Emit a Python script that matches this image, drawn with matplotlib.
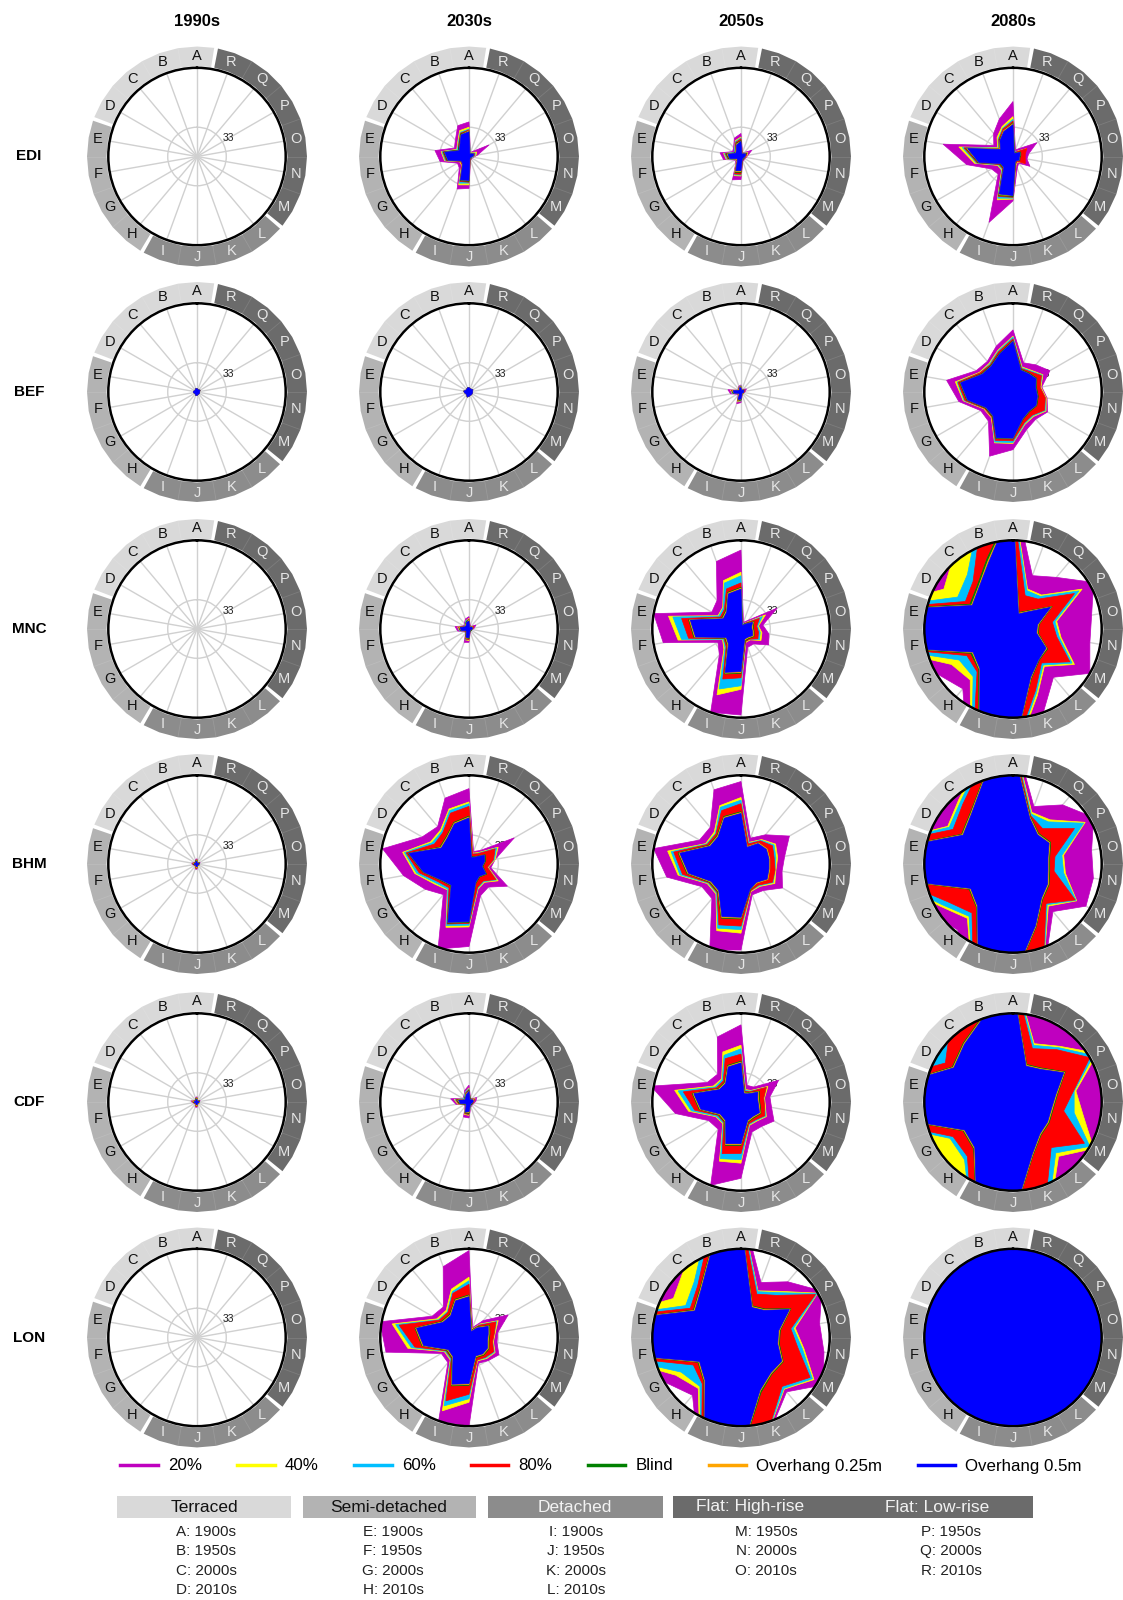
import numpy as np
import matplotlib
matplotlib.use("Agg")
import matplotlib.pyplot as plt
from matplotlib.lines import Line2D
from matplotlib.patches import Rectangle

plt.rcParams["font.family"] = ["Liberation Sans", "DejaVu Sans"]

# ---------------------------------------------------------------- labels
SPOKES = list("ABCDEFGHIJKLMNOPQR")
CITIES = ["EDI", "BEF", "MNC", "BHM", "CDF", "LON"]
DECADES = ["1990s", "2030s", "2050s", "2080s"]
SERIES = ["20%", "40%", "60%", "80%", "Blind", "Overhang 0.25m", "Overhang 0.5m"]
SERIES_COLORS = ["#bf00bf", "#ffff00", "#00bfff", "#ff0000", "#008000", "#ffa500", "#0000ff"]

BUILDING_TYPES = ["Terraced", "Semi-detached", "Detached", "Flat: High-rise", "Flat: Low-rise"]
BUILDING_KEYS = [
    ["A: 1900s", "B: 1950s", "C: 2000s", "D: 2010s"],
    ["E: 1900s", "F: 1950s", "G: 2000s", "H: 2010s"],
    ["I: 1900s", "J: 1950s", "K: 2000s", "L: 2010s"],
    ["M: 1950s", "N: 2000s", "O: 2010s"],
    ["P: 1950s", "Q: 2000s", "R: 2010s"],
]

# --------------------------------------------------------------- values
# one row per series (20%, 40%, 60%, 80%, Blind, Overhang 0.25m, Overhang 0.5m),
# one column per dwelling A..R
ZERO = [0] * 18

EDI_1990s = [ZERO, ZERO, ZERO, ZERO, ZERO, ZERO, ZERO]
EDI_2030s = [
    [39, 37, 24, 19, 39, 33, 15, 17, 39, 36, 5, 4, 4, 5, 10, 26, 8, 5],
    [33, 31, 20, 16, 32, 28, 12, 13, 34, 32, 4, 3, 3, 4, 8, 10, 6, 4],
    [31, 29, 19, 15, 31, 27, 11, 12, 32, 30, 4, 3, 3, 4, 7, 8, 5, 4],
    [30, 28, 18, 14, 30, 26, 11, 12, 30, 29, 4, 3, 3, 3, 6, 7, 5, 3],
    [29, 27, 17, 14, 29, 25, 10, 11, 29, 28, 3, 3, 3, 3, 5, 6, 4, 3],
    [29, 26, 16, 13, 28, 24, 10, 11, 28, 27, 3, 2, 2, 3, 5, 6, 4, 3],
    [28, 26, 16, 13, 28, 24, 10, 11, 28, 27, 3, 2, 2, 3, 5, 6, 4, 3],
]
EDI_2050s = [
    [26, 22, 13, 11, 24, 20, 8, 9, 28, 26, 6, 5, 5, 6, 8, 14, 6, 5],
    [22, 19, 11, 9, 20, 17, 7, 8, 23, 22, 5, 4, 4, 5, 7, 9, 5, 4],
    [21, 18, 11, 9, 19, 16, 7, 7, 22, 21, 5, 4, 4, 5, 6, 8, 5, 4],
    [20, 17, 10, 8, 18, 15, 6, 7, 21, 20, 5, 4, 4, 5, 6, 8, 4, 4],
    [18, 16, 9, 8, 17, 14, 6, 6, 19, 18, 4, 4, 4, 4, 5, 7, 4, 3],
    [17, 15, 9, 7, 16, 13, 6, 6, 18, 17, 4, 3, 3, 4, 5, 6, 4, 3],
    [17, 14, 8, 7, 15, 13, 5, 6, 17, 16, 4, 3, 3, 4, 5, 6, 4, 3],
]
EDI_2080s = [
    [62, 45, 34, 25, 80, 53, 28, 26, 79, 50, 14, 10, 22, 16, 18, 31, 12, 8],
    [45, 36, 28, 20, 62, 44, 20, 20, 52, 48, 10, 8, 15, 12, 12, 18, 8, 6],
    [42, 34, 26, 19, 58, 42, 19, 19, 50, 47, 9, 7, 14, 12, 12, 16, 7, 6],
    [40, 33, 25, 18, 56, 41, 18, 18, 48, 46, 9, 7, 16, 14, 14, 18, 7, 5],
    [38, 31, 24, 17, 54, 40, 17, 17, 47, 45, 8, 6, 9, 8, 9, 10, 6, 5],
    [37, 31, 23, 17, 53, 39, 16, 16, 46, 44, 7, 6, 8, 7, 8, 9, 5, 4],
    [36, 30, 23, 16, 52, 39, 16, 16, 45, 44, 7, 6, 8, 7, 8, 9, 5, 4],
]

BEF_1990s = [
    [4, 4, 3, 3, 4, 4, 3, 3, 4, 4, 3, 3, 3, 3, 3, 4, 3, 3],
    [4, 4, 3, 3, 4, 4, 3, 3, 4, 4, 3, 3, 3, 3, 3, 4, 3, 3],
    [4, 4, 3, 3, 4, 4, 3, 3, 4, 4, 3, 3, 3, 3, 3, 4, 3, 3],
    [4, 4, 3, 3, 4, 4, 3, 3, 4, 4, 3, 3, 3, 3, 3, 4, 3, 3],
    [4, 4, 3, 3, 4, 4, 3, 3, 4, 4, 3, 3, 3, 3, 3, 4, 3, 3],
    [4, 4, 3, 3, 4, 4, 3, 3, 4, 4, 3, 3, 3, 3, 3, 4, 3, 3],
    [4, 4, 3, 3, 4, 4, 3, 3, 4, 4, 3, 3, 3, 3, 3, 4, 3, 3],
]
BEF_2030s = [
    [5, 5, 4, 4, 6, 5, 4, 4, 6, 5, 4, 4, 4, 4, 4, 5, 4, 4],
    [5, 5, 4, 4, 6, 5, 4, 4, 6, 5, 4, 4, 4, 4, 4, 5, 4, 4],
    [5, 5, 4, 4, 6, 5, 4, 4, 6, 5, 4, 4, 4, 4, 4, 5, 4, 4],
    [5, 5, 4, 4, 6, 5, 4, 4, 6, 5, 4, 4, 4, 4, 4, 5, 4, 4],
    [5, 5, 4, 4, 6, 5, 4, 4, 6, 5, 4, 4, 4, 4, 4, 5, 4, 4],
    [5, 5, 4, 4, 6, 5, 4, 4, 6, 5, 4, 4, 4, 4, 4, 5, 4, 4],
    [5, 5, 4, 4, 6, 5, 4, 4, 6, 5, 4, 4, 4, 4, 4, 5, 4, 4],
]
BEF_2050s = [
    [8, 7, 5, 4, 15, 12, 5, 5, 14, 12, 4, 3, 3, 4, 5, 7, 4, 3],
    [7, 6, 4, 4, 12, 10, 4, 4, 12, 10, 3, 3, 3, 3, 4, 5, 3, 3],
    [7, 6, 4, 4, 11, 10, 4, 4, 11, 10, 3, 3, 3, 3, 4, 5, 3, 3],
    [6, 6, 4, 4, 11, 9, 4, 4, 11, 9, 3, 3, 3, 3, 4, 5, 3, 3],
    [6, 5, 4, 3, 10, 9, 4, 4, 10, 9, 3, 3, 3, 3, 3, 4, 3, 3],
    [6, 5, 4, 3, 10, 8, 4, 4, 10, 8, 3, 3, 3, 3, 3, 4, 3, 3],
    [5, 5, 3, 3, 9, 8, 3, 3, 9, 8, 3, 2, 2, 3, 3, 4, 3, 2],
]
BEF_2080s = [
    [70, 55, 45, 48, 76, 62, 42, 43, 77, 65, 45, 40, 45, 39, 33, 48, 40, 35],
    [63, 50, 42, 44, 66, 57, 38, 38, 61, 58, 39, 36, 43, 38, 32, 39, 32, 30],
    [62, 49, 41, 43, 64, 56, 37, 37, 60, 57, 38, 35, 42, 37, 31, 38, 31, 29],
    [60, 48, 40, 43, 63, 55, 37, 37, 58, 55, 37, 34, 41, 37, 31, 37, 30, 28],
    [58, 46, 39, 41, 61, 53, 36, 36, 56, 53, 33, 29, 31, 29, 27, 31, 28, 27],
    [57, 45, 38, 40, 60, 52, 35, 35, 55, 52, 32, 28, 30, 28, 26, 30, 27, 26],
    [57, 45, 38, 40, 60, 52, 35, 35, 55, 52, 32, 28, 30, 28, 26, 30, 27, 26],
]

MNC_1990s = [ZERO, ZERO, ZERO, ZERO, ZERO, ZERO, ZERO]
MNC_2030s = [
    [14, 12, 8, 7, 16, 13, 6, 6, 16, 15, 4, 3, 3, 4, 6, 9, 4, 4],
    [12, 10, 7, 6, 13, 11, 5, 5, 13, 13, 3, 3, 3, 3, 5, 6, 3, 3],
    [11, 10, 7, 6, 12, 11, 5, 5, 13, 12, 3, 3, 3, 3, 5, 6, 3, 3],
    [11, 9, 6, 6, 12, 10, 5, 5, 12, 12, 3, 3, 3, 3, 5, 6, 3, 3],
    [10, 9, 6, 5, 11, 10, 4, 5, 11, 11, 3, 3, 3, 3, 4, 5, 3, 3],
    [10, 8, 6, 5, 11, 9, 4, 4, 11, 10, 3, 2, 2, 3, 4, 5, 3, 3],
    [9, 8, 5, 5, 10, 9, 4, 4, 10, 10, 3, 2, 2, 3, 4, 4, 3, 2],
]
MNC_2050s = [
    [89, 81, 42, 38, 100, 89, 30, 38, 100, 97, 22, 22, 36, 32, 25, 47, 13, 8],
    [64, 58, 32, 30, 83, 72, 24, 30, 79, 68, 16, 16, 26, 24, 20, 32, 10, 6],
    [60, 55, 31, 29, 78, 68, 23, 28, 72, 64, 15, 15, 24, 22, 19, 28, 9, 6],
    [52, 48, 29, 27, 68, 60, 22, 26, 60, 55, 15, 15, 22, 20, 18, 24, 9, 5],
    [47, 44, 27, 25, 60, 54, 21, 24, 54, 50, 14, 14, 17, 15, 14, 17, 8, 5],
    [46, 43, 26, 24, 59, 53, 20, 23, 53, 49, 13, 13, 16, 14, 13, 16, 7, 4],
    [45, 42, 25, 23, 58, 52, 19, 22, 52, 48, 12, 12, 15, 13, 12, 15, 7, 4],
]
MNC_2080s = [
    [160, 150, 125, 110, 160, 150, 100, 88, 150, 160, 100, 71, 100, 88, 90, 105, 76, 64],
    [150, 130, 105, 90, 150, 140, 80, 75, 140, 150, 80, 55, 80, 55, 50, 90, 50, 48],
    [145, 120, 80, 72, 145, 136, 70, 70, 135, 145, 77, 53, 77, 53, 48, 86, 48, 46],
    [140, 112, 70, 62, 140, 130, 60, 63, 130, 140, 74, 50, 74, 50, 45, 80, 44, 40],
    [140, 85, 63, 56, 133, 127, 55, 60, 115, 140, 60, 46, 45, 29, 30, 51, 27, 20],
    [140, 82, 61, 54, 131, 126, 53, 59, 112, 140, 59, 45, 44, 28, 29, 50, 26, 19],
    [140, 80, 60, 53, 130, 125, 52, 58, 110, 140, 58, 45, 43, 27, 28, 49, 25, 18],
]

BHM_1990s = [
    [6, 5, 3, 3, 6, 5, 3, 3, 6, 6, 2, 2, 3, 3, 3, 4, 2, 2],
    [5, 4, 3, 3, 5, 4, 3, 3, 5, 5, 2, 2, 3, 3, 3, 3, 2, 2],
    [5, 4, 3, 3, 5, 4, 3, 3, 5, 5, 2, 2, 2, 3, 3, 3, 2, 2],
    [5, 4, 3, 3, 5, 4, 3, 3, 5, 5, 2, 2, 2, 2, 3, 3, 2, 2],
    [4, 4, 3, 2, 4, 4, 2, 2, 4, 4, 2, 2, 2, 2, 2, 3, 2, 2],
    [4, 3, 2, 2, 4, 3, 2, 2, 4, 4, 2, 2, 2, 2, 2, 2, 2, 2],
    [3, 3, 2, 2, 3, 3, 2, 2, 3, 3, 2, 1, 2, 2, 2, 2, 1, 1],
]
BHM_2030s = [
    [85, 79, 55, 61, 99, 75, 57, 45, 102, 93, 38, 34, 50, 25, 30, 59, 20, 15],
    [70, 66, 50, 50, 76, 62, 45, 38, 76, 71, 30, 27, 38, 22, 30, 38, 17, 13],
    [68, 64, 48, 48, 74, 60, 43, 37, 74, 69, 29, 26, 36, 21, 29, 36, 16, 12],
    [65, 61, 46, 45, 72, 57, 40, 35, 72, 67, 28, 25, 35, 21, 28, 34, 15, 12],
    [54, 50, 40, 38, 70, 53, 37, 32, 71, 66, 23, 19, 23, 16, 19, 21, 11, 9],
    [53, 49, 39, 37, 69, 52, 36, 31, 70, 65, 22, 18, 22, 15, 18, 20, 10, 8],
    [52, 48, 38, 36, 69, 52, 36, 31, 70, 65, 22, 18, 22, 15, 18, 20, 10, 8],
]
BHM_2050s = [
    [93, 89, 54, 54, 100, 85, 51, 51, 103, 97, 37, 39, 54, 47, 50, 63, 43, 31],
    [75, 70, 47, 46, 84, 72, 44, 44, 80, 78, 33, 33, 44, 40, 42, 45, 36, 26],
    [72, 68, 45, 45, 80, 70, 43, 43, 77, 74, 32, 32, 42, 39, 40, 43, 35, 25],
    [68, 64, 44, 44, 77, 67, 42, 42, 73, 70, 32, 31, 41, 39, 38, 41, 34, 24],
    [59, 57, 42, 42, 72, 62, 41, 41, 65, 62, 31, 28, 35, 33, 33, 34, 31, 21],
    [58, 56, 41, 41, 71, 61, 40, 40, 64, 61, 30, 28, 35, 33, 33, 34, 31, 21],
    [57, 55, 40, 40, 70, 60, 39, 39, 63, 60, 30, 27, 34, 32, 32, 33, 30, 20],
]
BHM_2080s = [
    [150, 130, 110, 100, 150, 140, 110, 97, 140, 150, 110, 70, 95, 92, 90, 105, 87, 69],
    [145, 120, 95, 85, 145, 132, 95, 80, 135, 145, 105, 62, 83, 60, 58, 94, 65, 62],
    [143, 117, 92, 83, 143, 130, 92, 77, 133, 143, 104, 60, 82, 58, 56, 92, 62, 60],
    [140, 112, 88, 78, 140, 125, 85, 72, 130, 140, 102, 58, 81, 47, 48, 80, 52, 58],
    [132, 100, 75, 67, 122, 117, 57, 64, 117, 132, 76, 52, 47, 42, 42, 49, 45, 57],
    [131, 99, 74, 66, 121, 116, 56, 63, 116, 131, 75, 51, 46, 41, 41, 48, 44, 56],
    [130, 98, 73, 65, 120, 115, 55, 62, 115, 130, 74, 50, 45, 40, 40, 47, 43, 55],
]

CDF_1990s = [
    [6, 5, 3, 3, 7, 5, 3, 3, 6, 6, 3, 2, 3, 3, 3, 4, 2, 2],
    [5, 4, 3, 3, 6, 4, 3, 3, 5, 5, 2, 2, 3, 3, 3, 3, 2, 2],
    [5, 4, 3, 3, 5, 4, 3, 3, 5, 5, 2, 2, 2, 3, 3, 3, 2, 2],
    [5, 4, 3, 3, 5, 4, 3, 3, 5, 5, 2, 2, 2, 2, 3, 3, 2, 2],
    [4, 4, 3, 2, 4, 4, 2, 2, 4, 4, 2, 2, 2, 2, 2, 3, 2, 2],
    [4, 3, 2, 2, 4, 3, 2, 2, 4, 4, 2, 2, 2, 2, 2, 2, 2, 2],
    [3, 3, 2, 2, 3, 3, 2, 2, 3, 3, 2, 1, 2, 2, 2, 2, 1, 1],
]
CDF_2030s = [
    [19, 14, 9, 8, 21, 15, 6, 7, 18, 18, 6, 5, 5, 6, 8, 10, 5, 5],
    [16, 12, 8, 7, 17, 13, 5, 6, 15, 15, 5, 4, 4, 5, 6, 8, 4, 4],
    [15, 12, 8, 7, 16, 12, 5, 6, 14, 14, 5, 4, 4, 5, 6, 7, 4, 4],
    [14, 11, 7, 6, 15, 12, 5, 5, 14, 14, 4, 4, 4, 5, 6, 7, 4, 4],
    [13, 10, 7, 6, 14, 11, 5, 5, 13, 13, 4, 4, 4, 4, 5, 6, 4, 4],
    [12, 10, 6, 6, 13, 10, 4, 5, 12, 12, 4, 3, 3, 4, 5, 6, 3, 3],
    [12, 9, 6, 5, 12, 10, 4, 5, 12, 11, 4, 3, 3, 4, 5, 5, 3, 3],
]
CDF_2050s = [
    [87, 78, 41, 44, 103, 75, 42, 40, 100, 86, 36, 36, 43, 35, 33, 49, 22, 20],
    [64, 60, 34, 36, 76, 60, 33, 32, 71, 69, 28, 28, 33, 28, 27, 35, 17, 15],
    [60, 56, 33, 34, 72, 57, 32, 31, 68, 65, 27, 27, 32, 27, 26, 33, 16, 14],
    [54, 52, 31, 32, 66, 53, 30, 30, 62, 58, 26, 26, 31, 27, 26, 33, 15, 13],
    [46, 44, 29, 30, 56, 48, 29, 29, 52, 49, 24, 23, 26, 22, 21, 24, 14, 12],
    [45, 43, 28, 29, 55, 47, 28, 28, 51, 48, 23, 22, 25, 21, 20, 23, 13, 11],
    [44, 42, 27, 28, 54, 46, 27, 27, 50, 47, 22, 21, 24, 20, 19, 22, 12, 10],
]
CDF_2080s = [
    [150, 140, 130, 120, 150, 150, 120, 110, 140, 150, 130, 110, 120, 110, 110, 120, 110, 110],
    [150, 140, 125, 115, 150, 148, 118, 105, 140, 150, 125, 80, 105, 80, 72, 110, 82, 70],
    [148, 138, 120, 112, 148, 146, 82, 85, 138, 148, 120, 75, 100, 70, 70, 105, 80, 68],
    [146, 136, 110, 88, 146, 140, 78, 80, 136, 146, 110, 67, 93, 58, 69, 100, 77, 64],
    [132, 102, 87, 79, 127, 122, 65, 69, 122, 132, 65, 49, 47, 46, 51, 68, 50, 45],
    [131, 101, 86, 78, 126, 121, 64, 68, 121, 131, 64, 48, 46, 45, 50, 67, 49, 44],
    [130, 100, 85, 77, 125, 120, 63, 67, 120, 130, 63, 47, 45, 44, 49, 66, 48, 43],
]

LON_1990s = [ZERO, ZERO, ZERO, ZERO, ZERO, ZERO, ZERO]
LON_2030s = [
    [98, 85, 45, 48, 102, 95, 36, 37, 100, 100, 31, 34, 39, 32, 33, 51, 25, 12],
    [68, 58, 40, 42, 88, 70, 32, 33, 88, 73, 28, 31, 34, 28, 30, 38, 20, 10],
    [64, 55, 38, 40, 84, 66, 31, 32, 82, 69, 27, 30, 33, 27, 29, 36, 19, 9],
    [60, 53, 37, 39, 80, 62, 30, 31, 76, 64, 27, 29, 32, 27, 29, 35, 18, 9],
    [48, 46, 34, 36, 62, 54, 29, 30, 58, 54, 24, 26, 26, 23, 24, 27, 16, 9],
    [47, 45, 33, 35, 61, 53, 28, 29, 57, 53, 23, 25, 25, 22, 23, 26, 15, 8],
    [46, 44, 32, 34, 60, 52, 27, 28, 56, 52, 22, 24, 24, 21, 22, 25, 14, 7],
]
LON_2050s = [
    [150, 140, 115, 105, 150, 150, 100, 85, 140, 150, 105, 80, 107, 95, 90, 105, 82, 66],
    [145, 130, 100, 88, 145, 140, 85, 75, 135, 145, 102, 76, 95, 72, 62, 100, 68, 56],
    [143, 120, 82, 72, 143, 137, 78, 72, 133, 143, 101, 75, 93, 70, 60, 99, 66, 55],
    [140, 112, 76, 66, 140, 132, 62, 68, 130, 140, 100, 72, 90, 65, 57, 97, 62, 52],
    [132, 102, 72, 62, 127, 122, 56, 65, 122, 132, 66, 54, 55, 44, 45, 65, 42, 38],
    [131, 101, 71, 61, 126, 121, 55, 64, 121, 131, 64, 53, 54, 43, 44, 64, 41, 37],
    [130, 100, 70, 60, 125, 120, 54, 63, 120, 130, 63, 52, 53, 42, 43, 63, 40, 36],
]
LON_2080s = [
    [150, 150, 150, 150, 150, 150, 150, 150, 150, 150, 150, 150, 150, 150, 150, 150, 150, 150],
    [150, 150, 150, 150, 150, 150, 150, 150, 150, 150, 150, 150, 150, 150, 150, 150, 150, 150],
    [150, 150, 150, 150, 150, 150, 150, 150, 150, 150, 150, 150, 150, 150, 150, 150, 150, 150],
    [150, 150, 150, 150, 150, 150, 150, 150, 150, 150, 150, 150, 150, 150, 150, 150, 150, 150],
    [150, 150, 150, 150, 150, 150, 150, 150, 150, 150, 150, 150, 150, 150, 150, 150, 150, 150],
    [150, 150, 150, 150, 150, 150, 150, 150, 150, 150, 150, 150, 150, 150, 150, 150, 150, 150],
    [150, 150, 150, 150, 150, 150, 150, 150, 150, 150, 150, 150, 150, 150, 150, 150, 150, 150],
]

PANELS = {
    "EDI": [EDI_1990s, EDI_2030s, EDI_2050s, EDI_2080s],
    "BEF": [BEF_1990s, BEF_2030s, BEF_2050s, BEF_2080s],
    "MNC": [MNC_1990s, MNC_2030s, MNC_2050s, MNC_2080s],
    "BHM": [BHM_1990s, BHM_2030s, BHM_2050s, BHM_2080s],
    "CDF": [CDF_1990s, CDF_2030s, CDF_2050s, CDF_2080s],
    "LON": [LON_1990s, LON_2030s, LON_2050s, LON_2080s],
}

# ------------------------------------------------------------- layout
W, H = 1123, 1600
COL_X = [197, 469, 741, 1013]
ROW_Y = [156.5, 392, 629, 864, 1102, 1337.5]
R_PX = 88.7          # pixel radius of the r = 100 circle
RMAX = 100

# dwelling groups around the rim: (first, last, fill, letter colour)
RIM_GROUPS = [
    (0, 3, "#d9d9d9", "#111111"),
    (4, 7, "#b3b3b3", "#111111"),
    (8, 11, "#8c8c8c", "#e6e6e6"),
    (12, 17, "#6b6b6b", "#e6e6e6"),
]
BOX_COLORS = ["#d9d9d9", "#b3b3b3", "#8c8c8c", "#6b6b6b"]

theta = np.deg2rad(np.arange(18) * 20.0)
theta_closed = np.append(theta, theta[0])

fig = plt.figure(figsize=(W / 100, H / 100), dpi=100)


def draw_rim(ax):
    for first, last, fill, txt in RIM_GROUPS:
        a0 = first * 20 - 10 + 1.0
        a1 = last * 20 + 10 - 1.0
        angs = np.concatenate([[a0], np.arange(first * 20, a1, 10), [a1]])
        angs = np.deg2rad(angs)
        t = np.concatenate([angs, angs[::-1]])
        r = np.concatenate([np.full(len(angs), 124.0), np.full(len(angs), 102.0)])
        ax.fill(t, r, color=fill, lw=0, clip_on=False, zorder=0.2)
        for k in range(first, last + 1):
            ax.text(theta[k], 113.5, SPOKES[k], ha="center", va="center",
                    fontsize=10.5, color=txt, clip_on=False, zorder=0.3)
        for k in range(first, last):
            tk = np.deg2rad(k * 20 + 10)
            ax.plot([tk, tk], [102, 124], color="white", alpha=0.12, lw=0.6,
                    clip_on=False, zorder=0.25)


for ri, city in enumerate(CITIES):
    for ci, dec in enumerate(DECADES):
        cx, cy = COL_X[ci], ROW_Y[ri]
        ax = fig.add_axes([(cx - R_PX) / W, 1 - (cy + R_PX) / H, 2 * R_PX / W, 2 * R_PX / H],
                          projection="polar")
        ax.set_theta_offset(np.pi / 2)
        ax.set_theta_direction(1)
        ax.set_ylim(0, RMAX)
        ax.set_xticks(theta)
        ax.set_xticklabels([])
        ax.set_yticks([33])
        ax.set_yticklabels(["33"])
        ax.set_rlabel_position(297)
        ax.tick_params(axis="y", labelsize=7.5, colors="#222222", pad=0)
        ax.grid(True, color="#d0d0d0", lw=1.0)
        ax.set_axisbelow(True)
        ax.spines["polar"].set_color("black")
        ax.spines["polar"].set_linewidth(1.8)
        ax.spines["polar"].set_zorder(5)

        panel = PANELS[city][ci]
        for si, vals in enumerate(panel):
            vals = np.asarray(vals, dtype=float)
            if vals.max() <= 0:
                continue
            ax.fill(theta_closed, np.append(vals, vals[0]), color=SERIES_COLORS[si],
                    lw=0.5, zorder=1 + si * 0.1)

        draw_rim(ax)

# column and row headers
for ci, dec in enumerate(DECADES):
    fig.text(COL_X[ci] / W, 1 - 21 / H, dec, ha="center", va="center",
             fontsize=12, fontweight="bold")
for ri, city in enumerate(CITIES):
    fig.text(29 / W, 1 - ROW_Y[ri] / H, city, ha="center", va="center",
             fontsize=11, fontweight="bold")

# series legend
handles = [Line2D([], [], color=c, lw=2.5) for c in SERIES_COLORS]
fig.legend(handles, SERIES, loc="center", bbox_to_anchor=(601 / W, 1 - 1466 / H),
           ncol=7, frameon=False, fontsize=12.2, handlelength=2.2,
           handletextpad=0.6, columnspacing=2.1)

# dwelling key
BOXES = [(117, 291), (303, 476), (488, 663), (673, 1033)]
for (x0, x1), col in zip(BOXES, BOX_COLORS):
    fig.add_artist(Rectangle((x0 / W, 1 - 1518 / H), (x1 - x0) / W, 22 / H,
                             transform=fig.transFigure, facecolor=col, edgecolor="none"))
TYPE_X = [204, 389, 575, 750, 937]
TYPE_COLORS = ["#111111", "#111111", "#f2f2f2", "#f2f2f2", "#f2f2f2"]
for name, x, c in zip(BUILDING_TYPES, TYPE_X, TYPE_COLORS):
    fig.text(x / W, 1 - 1507 / H, name, ha="center", va="center", fontsize=12.5, color=c)
KEY_X = [206, 393, 576, 766, 951]
KEY_Y = [1532, 1551, 1571, 1590]
for keys, x in zip(BUILDING_KEYS, KEY_X):
    for k, y in zip(keys, KEY_Y):
        fig.text(x / W, 1 - y / H, k, ha="center", va="center", fontsize=11, color="#222222")

fig.savefig("out.png", dpi=100)
